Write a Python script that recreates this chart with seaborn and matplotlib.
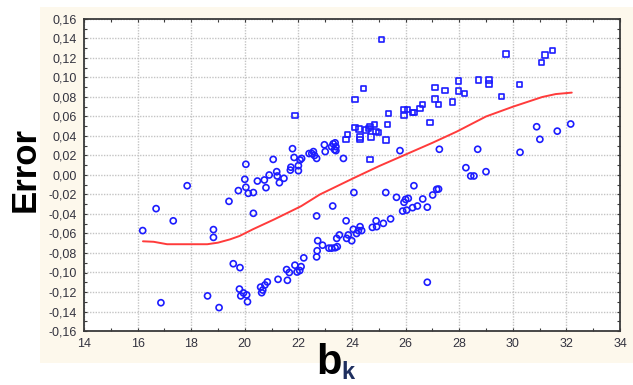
import numpy as np
import pandas as pd
import matplotlib
matplotlib.use("Agg")
import matplotlib.pyplot as plt
from matplotlib.patches import Rectangle
from matplotlib.ticker import MultipleLocator, FuncFormatter
import seaborn as sns

# Observations below / around the fitted curve (drawn as open circles)
circ_bk = [
    16.19, 16.69, 16.87, 17.33, 17.85, 18.61, 18.83, 18.83, 19.04, 19.41,
    19.57, 19.82, 19.76, 20.00, 20.04, 20.04, 20.13, 20.32, 20.32, 20.47,
    20.73, 20.79, 20.91, 21.06, 21.19, 21.21, 21.29, 21.46, 21.78, 21.84,
    21.72, 21.70, 22.00, 22.00, 22.06, 22.12,
    22.40, 22.50, 22.56, 22.60, 22.68, 22.97, 23.00, 23.24, 23.30, 23.37,
    23.40, 23.40, 23.35, 23.68,
    19.80, 19.85, 19.95, 20.07, 20.10, 20.59, 20.67, 20.63, 20.75, 20.84,
    21.24, 21.56, 21.66, 21.59, 21.87, 21.95, 22.05, 22.10, 22.20,
    22.68, 22.70, 22.72, 22.90, 22.68, 23.14, 23.24, 23.37, 23.45, 23.43,
    23.53, 23.28, 23.78, 23.80, 23.86, 23.99, 24.05, 24.17, 24.24, 24.30,
    24.36, 24.76, 24.90, 24.92, 25.17, 25.44,
    24.07, 25.26, 26.31, 25.66, 25.94, 26.00, 26.10, 26.64, 26.81, 27.01,
    27.16, 27.23, 25.89, 26.04, 26.26, 26.44, 26.81,
    25.79, 27.26, 28.69, 30.27, 28.25, 28.43, 28.55, 29.00,
    30.89, 31.01, 31.66, 32.16,
]
circ_err = [
    -0.057, -0.0345, -0.131, -0.047, -0.011, -0.124, -0.056, -0.064, -0.136, -0.027,
    -0.091, -0.095, -0.016, -0.0044, -0.0126, 0.011, -0.0188, -0.018, -0.0393, -0.0062,
    -0.0051, -0.013, 0.000, 0.016, 0.0034, -0.001, -0.0079, -0.0034, 0.027, 0.018,
    0.008, 0.005, 0.0096, 0.0044, 0.0154, 0.017,
    0.022, 0.022, 0.024, 0.020, 0.017, 0.031, 0.024, 0.029, 0.032, 0.033,
    0.029, 0.025, 0.026, 0.017,
    -0.117, -0.124, -0.121, -0.123, -0.130, -0.115, -0.118, -0.1207, -0.1128, -0.1097,
    -0.107, -0.097, -0.100, -0.108, -0.0925, -0.0995, -0.098, -0.094, -0.085,
    -0.084, -0.0777, -0.0674, -0.072, -0.042, -0.075, -0.075, -0.0746, -0.0735, -0.065,
    -0.0615, -0.0318, -0.047, -0.065, -0.0615, -0.0674, -0.0557, -0.060, -0.057, -0.053,
    -0.057, -0.0537, -0.047, -0.053, -0.0496, -0.045,
    -0.018, -0.018, -0.011, -0.0229, -0.028, -0.025, -0.024, -0.0246, -0.033, -0.0205,
    -0.0147, -0.0144, -0.037, -0.036, -0.0335, -0.0318, -0.110,
    0.025, 0.0264, 0.0264, 0.0233, 0.0075, -0.001, -0.001, 0.0034,
    0.0495, 0.0366, 0.045, 0.0523,
]

# Observations of the upper branch (drawn as open squares)
sq_bk = [
    21.87, 23.78, 23.83, 24.11, 24.42, 25.10, 24.11, 24.26, 24.30, 24.30,
    24.52, 24.61, 24.67, 24.71, 24.83, 24.90, 24.98, 24.67, 25.27, 25.32,
    25.37, 25.94, 25.94, 26.06, 26.26, 26.32, 26.54, 26.62, 26.91, 27.10,
    27.10, 27.23, 27.47, 27.74, 27.97, 27.97, 28.19, 28.71, 29.11, 29.11,
    29.58, 29.75, 30.24, 31.08, 31.20, 31.49,
]
sq_err = [
    0.061, 0.0366, 0.0417, 0.0777, 0.089, 0.139, 0.0486, 0.047, 0.039, 0.0366,
    0.046, 0.048, 0.050, 0.039, 0.052, 0.0445, 0.0434, 0.016, 0.036, 0.052,
    0.063, 0.061, 0.0674, 0.0674, 0.064, 0.064, 0.068, 0.072, 0.054, 0.090,
    0.078, 0.0725, 0.0865, 0.075, 0.0964, 0.086, 0.0838, 0.0974, 0.0974, 0.0933,
    0.0803, 0.124, 0.093, 0.1156, 0.123, 0.128,
]

# Smoothed trend of Error against b_k
fit_bk = [16.2, 16.6, 17.1, 17.6, 18.1, 18.6, 19.0, 19.45, 19.8, 20.3, 21.1,
          22.1, 22.8, 24.0, 25.0, 26.0, 27.0, 27.9, 29.0, 30.0, 31.1, 31.6, 32.2]
fit_err = [-0.068, -0.0685, -0.071, -0.071, -0.071, -0.071, -0.0694, -0.066,
           -0.0626, -0.0557, -0.0455, -0.032, -0.020, -0.004, 0.009, 0.021,
           0.033, 0.0444, 0.060, 0.070, 0.080, 0.083, 0.0845]

x_ticks = [14, 16, 18, 20, 22, 24, 26, 28, 30, 32, 34]

sns.set_theme(style="white")
plt.rcParams["font.family"] = ["Liberation Sans", "DejaVu Sans"]

fig = plt.figure(figsize=(6.33, 3.85), dpi=100)
fig.patch.set_facecolor("white")
# cream panel behind the plot
fig.patches.append(Rectangle((40 / 633, 1 - 363 / 385), 1 - 40 / 633, (363 - 7) / 385,
                             transform=fig.transFigure, facecolor="#fdf8ec",
                             edgecolor="none", zorder=-5))

ax = fig.add_axes([84 / 633, 1 - 331 / 385, (620 - 84) / 633, (331 - 19) / 385])
ax.set_zorder(2)
ax.set_facecolor("white")

blue = "#1c1cff"
circ_df = pd.DataFrame({"bk": circ_bk, "err": circ_err})
sq_df = pd.DataFrame({"bk": sq_bk, "err": sq_err})
fit_df = pd.DataFrame({"bk": fit_bk, "err": fit_err})

sns.scatterplot(data=circ_df, x="bk", y="err", ax=ax, marker="o", s=19,
                facecolors="none", edgecolor=blue, linewidth=1.2, zorder=3)
sns.scatterplot(data=sq_df, x="bk", y="err", ax=ax, marker="s", s=15,
                facecolors="none", edgecolor=blue, linewidth=1.2, zorder=3)
sns.lineplot(data=fit_df, x="bk", y="err", ax=ax, color="#ff3b3b", linewidth=1.4,
             sort=False, zorder=4)

ax.set_xlim(14, 34)
ax.set_ylim(-0.16, 0.16)
ax.set_xticks(x_ticks)
ax.yaxis.set_major_locator(MultipleLocator(0.02))
ax.xaxis.set_minor_locator(MultipleLocator(1))
ax.yaxis.set_minor_locator(MultipleLocator(0.01))
ax.xaxis.remove_overlapping_locs = False
ax.yaxis.remove_overlapping_locs = False
ax.yaxis.set_major_formatter(FuncFormatter(lambda v, p: f"{v:.2f}".replace(".", ",").replace("-0,00", "0,00")))
ax.xaxis.set_major_formatter(FuncFormatter(lambda v, p: f"{v:.0f}"))

ax.grid(True, which="major", color="#c4c4c4", linestyle=(0, (1, 1)), linewidth=1.0)
for s in ax.spines.values():
    s.set_color("#3a3a3a")
    s.set_linewidth(1.3)

ax.tick_params(which="major", direction="out", length=3, width=1, color="#3a3a3a",
               labelsize=9, labelcolor="#33333f", pad=2)
ax.tick_params(which="minor", direction="in", length=2.5, width=0.8, color="#3a3a3a",
               top=True, right=True, bottom=True, left=True)
ax.set_xlabel("")
ax.set_ylabel("")

fig.text(25 / 633, 1 - 169 / 385, "Error", rotation=90, fontsize=25,
         fontweight="bold", color="black", ha="center", va="center")
fig.text(316 / 633, 1 - 374 / 385, "b", fontsize=30, fontweight="bold",
         color="black", ha="left", va="baseline")
fig.text(341 / 633, 1 - 379 / 385, "k", fontsize=17, fontweight="bold",
         color="#1f2f5f", ha="left", va="baseline")

fig.savefig("out.png", dpi=100)
